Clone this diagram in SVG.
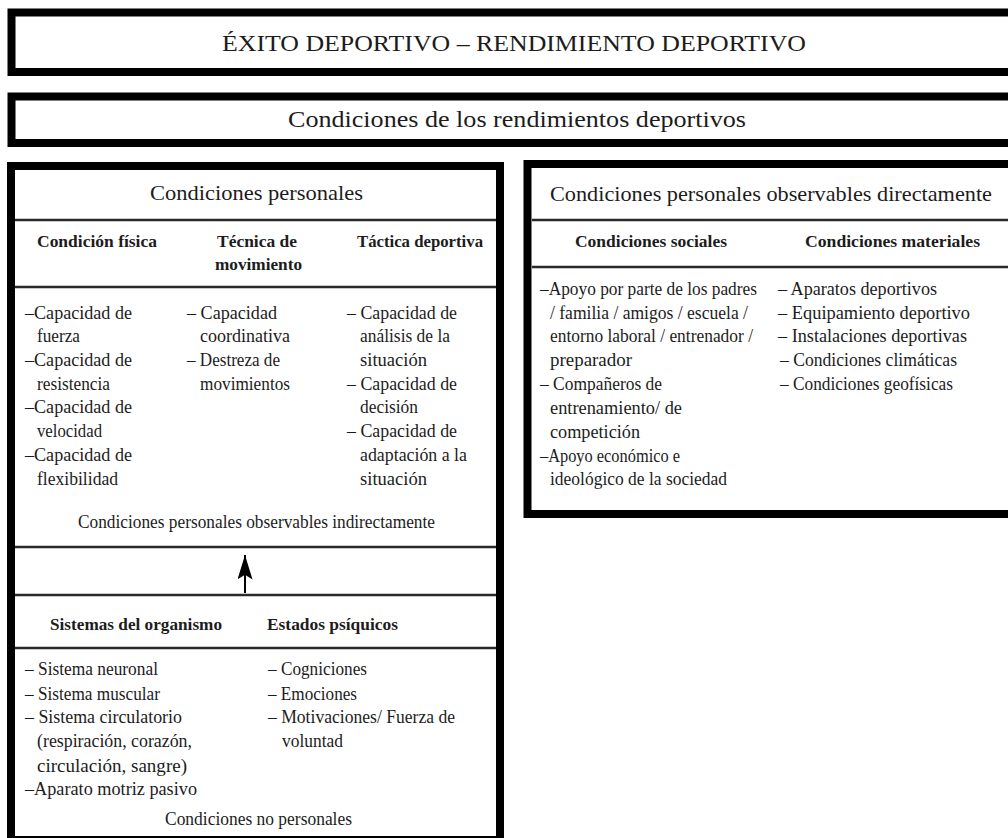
<svg xmlns="http://www.w3.org/2000/svg" width="1008" height="838" viewBox="0 0 1008 838">
<style>
text{font-family:"Liberation Serif","Times New Roman",serif;fill:#1c1c1c}
.frame{fill:#fff;stroke:#000;stroke-width:8}
.div{stroke:#2a2a2a;stroke-width:2.5;fill:none}
.t1{font-size:24px}
.h{font-size:22px}
.ch{font-size:16.5px;font-weight:bold}
.l{font-size:18px}
</style>
<defs>
<marker id="ah" viewBox="0 0 26 16" refX="26" refY="8" markerWidth="26" markerHeight="15" markerUnits="userSpaceOnUse" orient="auto">
<path d="M0,0 L26,8 L0,16 L5,8 z" fill="#000"/>
</marker>
</defs>
<rect width="1008" height="838" fill="#fff"/>

<g id="titulo">
<rect class="frame" x="11.5" y="12.5" width="1010" height="59.5" stroke-width="8.5"/>
<text class="t1" x="222" y="51" textLength="584" lengthAdjust="spacingAndGlyphs">ÉXITO DEPORTIVO – RENDIMIENTO DEPORTIVO</text>
</g>

<g id="condiciones">
<rect class="frame" x="11.5" y="96.5" width="1010" height="46.5" stroke-width="7.5"/>
<text class="t1" x="288" y="127" textLength="458" lengthAdjust="spacingAndGlyphs">Condiciones de los rendimientos deportivos</text>
</g>

<g id="personales">
<rect class="frame" x="11" y="166" width="489" height="674"/>
<line class="div" x1="15" y1="220" x2="496" y2="220"/>
<line class="div" x1="15" y1="287" x2="496" y2="287"/>
<line class="div" x1="15" y1="547" x2="496" y2="547" stroke-width="3"/>
<line class="div" x1="15" y1="595" x2="496" y2="595" stroke-width="3"/>
<line class="div" x1="15" y1="648" x2="496" y2="648"/>
<text class="h" x="150" y="200" textLength="213" lengthAdjust="spacingAndGlyphs">Condiciones personales</text>
<text class="ch" x="37" y="247" textLength="120" lengthAdjust="spacingAndGlyphs">Condición física</text>
<text class="ch" x="217" y="247" textLength="80" lengthAdjust="spacingAndGlyphs">Técnica de</text>
<text class="ch" x="215" y="270" textLength="87" lengthAdjust="spacingAndGlyphs">movimiento</text>
<text class="ch" x="357" y="247" textLength="126" lengthAdjust="spacingAndGlyphs">Táctica deportiva</text>

<text class="l" x="25" y="319" textLength="107" lengthAdjust="spacingAndGlyphs">–Capacidad de</text>
<text class="l" x="37" y="342" textLength="43" lengthAdjust="spacingAndGlyphs">fuerza</text>
<text class="l" x="25" y="366" textLength="107" lengthAdjust="spacingAndGlyphs">–Capacidad de</text>
<text class="l" x="37" y="390" textLength="73" lengthAdjust="spacingAndGlyphs">resistencia</text>
<text class="l" x="25" y="413" textLength="107" lengthAdjust="spacingAndGlyphs">–Capacidad de</text>
<text class="l" x="37" y="437" textLength="65" lengthAdjust="spacingAndGlyphs">velocidad</text>
<text class="l" x="25" y="461" textLength="107" lengthAdjust="spacingAndGlyphs">–Capacidad de</text>
<text class="l" x="37" y="485" textLength="81" lengthAdjust="spacingAndGlyphs">flexibilidad</text>

<text class="l" x="187" y="319" textLength="90" lengthAdjust="spacingAndGlyphs">– Capacidad</text>
<text class="l" x="200" y="342" textLength="90" lengthAdjust="spacingAndGlyphs">coordinativa</text>
<text class="l" x="187" y="366" textLength="93" lengthAdjust="spacingAndGlyphs">– Destreza de</text>
<text class="l" x="200" y="390" textLength="90" lengthAdjust="spacingAndGlyphs">movimientos</text>

<text class="l" x="347" y="319" textLength="110" lengthAdjust="spacingAndGlyphs">– Capacidad de</text>
<text class="l" x="360" y="342" textLength="90" lengthAdjust="spacingAndGlyphs">análisis de la</text>
<text class="l" x="360" y="366" textLength="67" lengthAdjust="spacingAndGlyphs">situación</text>
<text class="l" x="347" y="390" textLength="110" lengthAdjust="spacingAndGlyphs">– Capacidad de</text>
<text class="l" x="360" y="413" textLength="58" lengthAdjust="spacingAndGlyphs">decisión</text>
<text class="l" x="347" y="437" textLength="110" lengthAdjust="spacingAndGlyphs">– Capacidad de</text>
<text class="l" x="360" y="461" textLength="107" lengthAdjust="spacingAndGlyphs">adaptación a la</text>
<text class="l" x="360" y="485" textLength="67" lengthAdjust="spacingAndGlyphs">situación</text>

<text class="l" x="78" y="528" textLength="357" lengthAdjust="spacingAndGlyphs">Condiciones personales observables indirectamente</text>

<text class="ch" x="50" y="630" textLength="172" lengthAdjust="spacingAndGlyphs">Sistemas del organismo</text>
<text class="ch" x="267" y="630" textLength="131" lengthAdjust="spacingAndGlyphs">Estados psíquicos</text>

<text class="l" x="25" y="675" textLength="133" lengthAdjust="spacingAndGlyphs">– Sistema neuronal</text>
<text class="l" x="25" y="700" textLength="135" lengthAdjust="spacingAndGlyphs">– Sistema muscular</text>
<text class="l" x="25" y="723" textLength="157" lengthAdjust="spacingAndGlyphs">– Sistema circulatorio</text>
<text class="l" x="37" y="747" textLength="155" lengthAdjust="spacingAndGlyphs">(respiración, corazón,</text>
<text class="l" x="37" y="772" textLength="150" lengthAdjust="spacingAndGlyphs">circulación, sangre)</text>
<text class="l" x="25" y="795" textLength="172" lengthAdjust="spacingAndGlyphs">–Aparato motriz pasivo</text>

<text class="l" x="268" y="675" textLength="99" lengthAdjust="spacingAndGlyphs">– Cogniciones</text>
<text class="l" x="268" y="700" textLength="89" lengthAdjust="spacingAndGlyphs">– Emociones</text>
<text class="l" x="268" y="723" textLength="187" lengthAdjust="spacingAndGlyphs">– Motivaciones/ Fuerza de</text>
<text class="l" x="282" y="747" textLength="61" lengthAdjust="spacingAndGlyphs">voluntad</text>

<text class="l" x="165" y="825" textLength="187" lengthAdjust="spacingAndGlyphs">Condiciones no personales</text>
</g>

<g id="directas">
<rect class="frame" x="527.5" y="164" width="500" height="350" stroke-width="9"/>
<line class="div" x1="532" y1="220" x2="1008" y2="220"/>
<line class="div" x1="532" y1="267" x2="1008" y2="267"/>
<text class="h" x="550" y="201" textLength="442" lengthAdjust="spacingAndGlyphs">Condiciones personales observables directamente</text>
<text class="ch" x="575" y="247" textLength="152" lengthAdjust="spacingAndGlyphs">Condiciones sociales</text>
<text class="ch" x="805" y="247" textLength="175" lengthAdjust="spacingAndGlyphs">Condiciones materiales</text>

<text class="l" x="540" y="295" textLength="217" lengthAdjust="spacingAndGlyphs">–Apoyo por parte de los padres</text>
<text class="l" x="550" y="319" textLength="198" lengthAdjust="spacingAndGlyphs">/ familia / amigos / escuela /</text>
<text class="l" x="550" y="342" textLength="203" lengthAdjust="spacingAndGlyphs">entorno laboral / entrenador /</text>
<text class="l" x="550" y="366" textLength="82" lengthAdjust="spacingAndGlyphs">preparador</text>
<text class="l" x="540" y="390" textLength="122" lengthAdjust="spacingAndGlyphs">– Compañeros de</text>
<text class="l" x="550" y="414" textLength="132" lengthAdjust="spacingAndGlyphs">entrenamiento/ de</text>
<text class="l" x="550" y="438" textLength="90" lengthAdjust="spacingAndGlyphs">competición</text>
<text class="l" x="540" y="462" textLength="140" lengthAdjust="spacingAndGlyphs">–Apoyo económico e</text>
<text class="l" x="550" y="485" textLength="177" lengthAdjust="spacingAndGlyphs">ideológico de la sociedad</text>

<text class="l" x="778" y="295" textLength="159" lengthAdjust="spacingAndGlyphs">– Aparatos deportivos</text>
<text class="l" x="778" y="319" textLength="192" lengthAdjust="spacingAndGlyphs">– Equipamiento deportivo</text>
<text class="l" x="778" y="342" textLength="189" lengthAdjust="spacingAndGlyphs">– Instalaciones deportivas</text>
<text class="l" x="780" y="366" textLength="177" lengthAdjust="spacingAndGlyphs">– Condiciones climáticas</text>
<text class="l" x="780" y="390" textLength="173" lengthAdjust="spacingAndGlyphs">– Condiciones geofísicas</text>
</g>

<g id="conectores">
<line x1="245" y1="593" x2="245" y2="555" stroke="#000" stroke-width="2" marker-end="url(#ah)"/>
</g>
</svg>
